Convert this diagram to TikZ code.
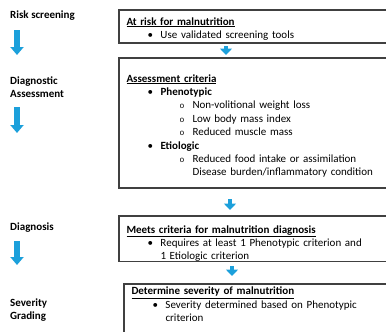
\documentclass[tikz,border=0pt]{standalone}
\usepackage{fontspec}
\setmainfont{Carlito}
\newfontfamily\circfont{Liberation Mono}
\usetikzlibrary{arrows.meta}
\definecolor{flowblue}{RGB}{28,160,219}
\definecolor{boxgray}{RGB}{64,64,64}
\newcommand{\lvlone}[1]{\hspace*{21pt}\makebox[13pt][l]{\textbullet}#1}
\newcommand{\lvltwo}[1]{\hspace*{53pt}\makebox[13pt][l]{{\circfont\footnotesize o}}#1}
\newcommand{\toppad}[1]{\rule{0pt}{#1}}
\begin{document}
\begin{tikzpicture}[x=1pt,y=-1pt]
        \tikzstyle{stage}=[anchor=west,font=\fontsize{11}{13.6}\selectfont\bfseries,align=left,inner sep=0]
        \tikzstyle{crit}=[draw=boxgray,line width=1.1pt,anchor=north west,outer sep=0,inner xsep=7.5pt,inner ysep=0,
                          font=\fontsize{11}{13.4}\selectfont,align=left,text width=285pt]
        \tikzstyle{flow}=[draw=flowblue,line width=5.5pt,-{Triangle[width=13pt,length=8pt]}]
        \tikzstyle{flowstep}=[draw=flowblue,line width=4pt,-{Triangle[width=12pt,length=6.5pt]}]
        \useasboundingbox (0,0) rectangle (386,332);
        \clip (0,0) rectangle (386,332);

        % stages on the left
        \node [stage] (risk) at (10,16) {Risk screening};
        \node [stage] (assess) at (10,87) {Diagnostic\\Assessment};
        \node [stage] (diag) at (10,228) {Diagnosis};
        \node [stage] (grade) at (10,310) {Severity\\Grading};

        % boxes
        \node [crit,minimum height=33pt] (atrisk) at (119,10) {\toppad{12.6pt}\underline{\textbf{At risk for malnutrition}}\\
            \lvlone{Use validated screening tools}};
        \node [crit,minimum height=130pt] (criteria) at (119,58) {\toppad{13.6pt}\underline{\textbf{Assessment criteria}}\\
            \lvlone{\textbf{Phenotypic}}\\
            \lvltwo{Non-volitional weight loss}\\
            \lvltwo{Low body mass index}\\
            \lvltwo{Reduced muscle mass}\\
            \lvlone{\textbf{Etiologic}}\\
            \lvltwo{Reduced food intake or assimilation}\\
            \hspace*{66pt}Disease burden/inflammatory condition};
        \node [crit,minimum height=45pt] (meets) at (119,216) {\toppad{17pt}\underline{\textbf{Meets criteria for malnutrition diagnosis}}\\
            \lvlone{Requires at least 1 Phenotypic criterion and}\\
            \hspace*{34pt}1 Etiologic criterion};
        \node [crit] (severity) at (124,284) {\toppad{10.6pt}\underline{\textbf{Determine severity of malnutrition}}\\
            \lvlone{Severity determined based on Phenotypic}\\
            \hspace*{34pt}criterion\\ \mbox{}\\ \mbox{}};

        % arrow ends
        \coordinate (l1a) at (17,30);  \coordinate (l1b) at (17,55);
        \coordinate (l2a) at (17,107); \coordinate (l2b) at (17,133);
        \coordinate (l3a) at (17,241); \coordinate (l3b) at (17,265);
        \coordinate (m1a) at (226,46); \coordinate (m1b) at (226,55);
        \coordinate (m2a) at (230,199); \coordinate (m2b) at (230,210);
        \coordinate (m3a) at (232,266); \coordinate (m3b) at (232,276);

        \path[flow] (l1a) -- (l1b);
        \path[flow] (l2a) -- (l2b);
        \path[flow] (l3a) -- (l3b);
        \path[flowstep] (m1a) -- (m1b);
        \path[flowstep] (m2a) -- (m2b);
        \path[flowstep] (m3a) -- (m3b);
\end{tikzpicture}
\end{document}
